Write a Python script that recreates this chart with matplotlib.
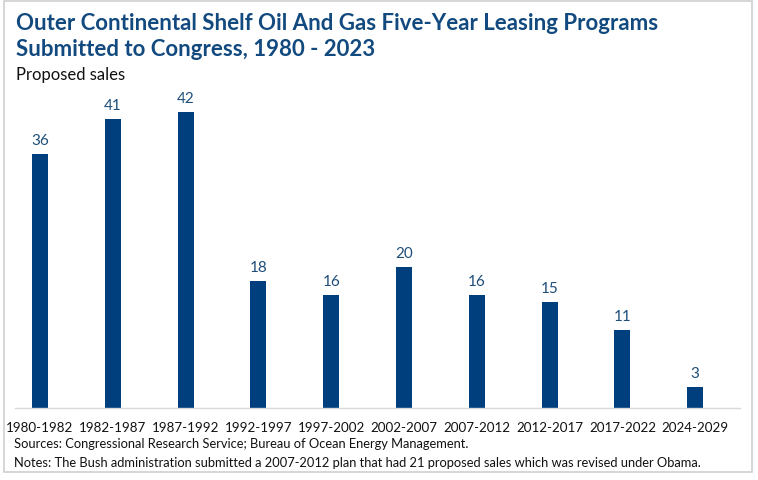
import matplotlib
matplotlib.use("Agg")
import matplotlib.pyplot as plt
from matplotlib.patches import Rectangle
from matplotlib.transforms import blended_transform_factory

categories = ["1980-1982", "1982-1987", "1987-1992", "1992-1997", "1997-2002",
              "2002-2007", "2007-2012", "2012-2017", "2017-2022", "2024-2029"]
sales = [36, 41, 42, 18, 16, 20, 16, 15, 11, 3]

title = "Outer Continental Shelf Oil And Gas Five-Year Leasing Programs\nSubmitted to Congress, 1980 - 2023"
subtitle = "Proposed sales"
sources = "Sources: Congressional Research Service; Bureau of Ocean Energy Management."
notes = "Notes: The Bush administration submitted a 2007-2012 plan that had 21 proposed sales which was revised under Obama."

plt.rcParams['font.family'] = ['Lato', 'DejaVu Sans']
W, H = 758, 481
fig = plt.figure(figsize=(W/100, H/100), dpi=100)
fig.patch.set_facecolor('white')
# outer frame (px coords: left 4, top 2, right 752, bottom 473)
fig.patches.append(Rectangle((4/W, 1-473/H), (752-4)/W, (473-2)/H, transform=fig.transFigure,
                             fill=False, edgecolor='#d0d0d0', linewidth=1.2))

bar_color = '#003f7d'
lab_color = '#1f4e79'
title_color = '#124a7f'

ax_left, ax_right = 15, 740
base_y, top_y = 409, 113
ax = fig.add_axes([ax_left/W, 1-base_y/H, (ax_right-ax_left)/W, (base_y-60)/H])
x = list(range(len(categories)))
ax.bar(x, sales, width=0.22, color=bar_color)
spacing = 72.8
ax.set_xlim((ax_left-40)/spacing, (ax_right-40)/spacing)
ppu = (base_y-top_y)/42
ax.set_ylim(0, (base_y-60)/ppu)
for xi, v in zip(x, sales):
    ax.text(xi, v + 7/ppu, str(v), ha='center', va='bottom', color=lab_color, fontsize=11)
for s in ['top', 'right', 'left']:
    ax.spines[s].set_visible(False)
ax.spines['bottom'].set_color('#d9d9d9')
ax.spines['bottom'].set_linewidth(1.0)
ax.set_yticks([])
ax.set_xticks(x)
ax.set_xticklabels([])
ax.tick_params(axis='x', length=0)
trans = blended_transform_factory(ax.transData, fig.transFigure)
for xi, c in zip(x, categories):
    ax.text(xi, 1-432/H, c, transform=trans, ha='center', va='baseline',
            fontsize=9.6, color='#111111', clip_on=False)

fig.text(16/W, 1-13/H, title, ha='left', va='top', fontsize=16, fontweight='bold',
         color=title_color, linespacing=1.3)
fig.text(16/W, 1-80/H, subtitle, ha='left', va='baseline', fontsize=12, color='#111111')
fig.text(14/W, 1-448/H, sources, ha='left', va='baseline', fontsize=9.3, color='#111111')
fig.text(14/W, 1-467/H, notes, ha='left', va='baseline', fontsize=9.3, color='#111111')

fig.savefig("out.png", dpi=100)
